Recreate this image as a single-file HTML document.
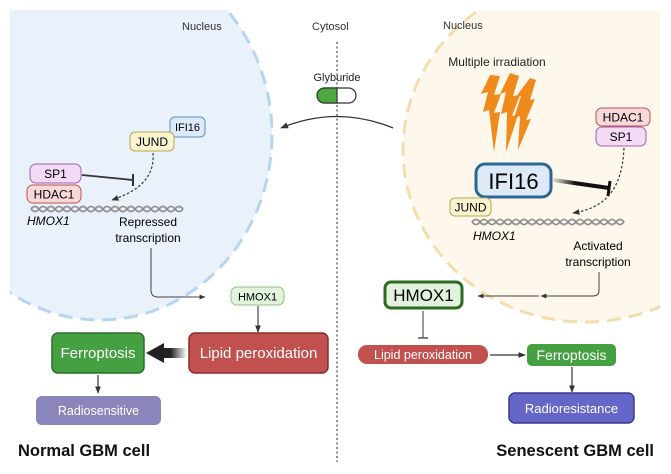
<!DOCTYPE html>
<html><head><meta charset="utf-8"><style>
html,body{margin:0;padding:0;background:#fff;}
svg{display:block;font-family:"Liberation Sans",Arial,sans-serif;}
</style></head><body>
<svg width="671" height="474" viewBox="0 0 671 474" xmlns="http://www.w3.org/2000/svg">
<defs>
<clipPath id="cl"><rect x="10" y="10" width="330" height="330"/></clipPath>
<clipPath id="cr"><rect x="340" y="10" width="320" height="330"/></clipPath>
<marker id="ah" viewBox="0 0 10 10" refX="9" refY="5" markerWidth="6" markerHeight="6" orient="auto"><path d="M0,1 L10,5 L0,9 z" fill="#333"/></marker>
<linearGradient id="tg" x1="1" x2="0" y1="0" y2="0"><stop offset="0" stop-color="#333" stop-opacity="0"/><stop offset="0.4" stop-color="#222"/><stop offset="1" stop-color="#222"/></linearGradient>
<linearGradient id="ig" x1="0" x2="1"><stop offset="0" stop-color="#222" stop-opacity="0.1"/><stop offset="0.4" stop-color="#111"/><stop offset="1" stop-color="#111"/></linearGradient>
</defs>
<!-- left nucleus -->
<g clip-path="url(#cl)">
<ellipse cx="100" cy="135" rx="172" ry="185" fill="#e9f1fa" stroke="#b7d4f1" stroke-width="3" stroke-dasharray="14 8"/>
</g>
<!-- right nucleus -->
<g clip-path="url(#cr)">
<ellipse cx="585" cy="150" rx="182" ry="172" fill="#fdf8eb" stroke="#f3dcae" stroke-width="3" stroke-dasharray="14 8"/>
</g>
<line x1="337" y1="42" x2="337" y2="462" stroke="#555" stroke-width="1.3" stroke-dasharray="2 2.5"/>
<text x="182" y="30" font-size="11" fill="#333">Nucleus</text>
<text x="312" y="30" font-size="11" fill="#333">Cytosol</text>
<text x="443" y="29" font-size="11" fill="#333">Nucleus</text>
<text x="337" y="81" font-size="11" fill="#222" text-anchor="middle">Glyburide</text>
<rect x="317" y="88" width="39" height="15" rx="7.5" fill="#fff" stroke="#333" stroke-width="1.2"/>
<path d="M324.5,88 H337 V103 H324.5 A7.5,7.5 0 0 1 324.5,88 z" fill="#4fa83f" stroke="#333" stroke-width="1.2"/>
<path d="M393,128 Q337,105 281,128" fill="none" stroke="#333" stroke-width="1.3" marker-end="url(#ah)"/>

<!-- left content -->
<rect x="170" y="117" width="35" height="20" rx="5" fill="#dde9f7" stroke="#5b8fc0"/>
<text x="187.5" y="131" font-size="11" text-anchor="middle">IFI16</text>
<rect x="130" y="132" width="44" height="19" rx="5" fill="#f8f3d0" stroke="#b9a84c"/>
<text x="152" y="146" font-size="12" text-anchor="middle">JUND</text>
<path d="M153,153 C155,180 135,192 112,200" fill="none" stroke="#333" stroke-width="1.2" stroke-dasharray="2.5 2" marker-end="url(#ah)"/>
<rect x="30" y="164" width="51" height="19" rx="6" fill="#f3dbf6" stroke="#a160b0"/>
<text x="55.5" y="178" font-size="12" text-anchor="middle">SP1</text>
<rect x="27" y="185" width="54" height="18" rx="6" fill="#f8d9d9" stroke="#c05050"/>
<text x="54" y="198.5" font-size="12" text-anchor="middle">HDAC1</text>
<line x1="82" y1="175" x2="133" y2="180" stroke="#333" stroke-width="1.8"/>
<line x1="133" y1="174" x2="133" y2="186" stroke="#333" stroke-width="2"/>
<path d="M31,209 q4,-5 8,0 t8,0 t8,0 t8,0 t8,0 t8,0 t8,0 t8,0 t8,0 t8,0 t8,0 t8,0 t8,0 t8,0 t8,0 t8,0 t8,0 t8,0 t8,0" fill="none" stroke="#999" stroke-width="2"/>
<path d="M31,209 q4,5 8,0 t8,0 t8,0 t8,0 t8,0 t8,0 t8,0 t8,0 t8,0 t8,0 t8,0 t8,0 t8,0 t8,0 t8,0 t8,0 t8,0 t8,0 t8,0" fill="none" stroke="#888" stroke-width="1.5"/>
<text x="27" y="225" font-size="12" font-style="italic">HMOX1</text>
<text x="148" y="226" font-size="12" text-anchor="middle">Repressed</text>
<text x="148" y="242" font-size="12" text-anchor="middle">transcription</text>
<path d="M151,248 V290 Q151,297 158,297 H205" fill="none" stroke="#444" stroke-width="1" marker-end="url(#ah)"/>
<rect x="231" y="287" width="53" height="18" rx="6" fill="#e1f3dc" stroke="#8fc485"/>
<text x="257.5" y="300.5" font-size="11" text-anchor="middle">HMOX1</text>
<line x1="258" y1="306" x2="258" y2="332" stroke="#444" stroke-width="1.2" marker-end="url(#ah)"/>
<rect x="189" y="333" width="139" height="40" rx="6" fill="#c0514f" stroke="#8e2a2a" stroke-width="1.5"/>
<text x="258.5" y="358" font-size="15" fill="#fff" text-anchor="middle">Lipid peroxidation</text>
<path d="M187,348 H164 V343 L146,353 L164,363 V358 H187 z" fill="url(#tg)"/>
<rect x="52" y="333" width="92" height="40" rx="6" fill="#45a041" stroke="#2b6e2a" stroke-width="1.5"/>
<text x="98" y="358" font-size="15" fill="#fff" text-anchor="middle">Ferroptosis</text>
<line x1="98" y1="375" x2="98" y2="393" stroke="#333" stroke-width="1.2" marker-end="url(#ah)"/>
<rect x="36" y="396" width="125" height="29" rx="6" fill="#8a85bb"/>
<text x="98.5" y="415" font-size="12.5" fill="#fff" text-anchor="middle">Radiosensitive</text>
<text x="18" y="456" font-size="16.5" font-weight="bold" fill="#111">Normal GBM cell</text>

<!-- right content -->
<text x="497" y="66" font-size="12" text-anchor="middle" fill="#222">Multiple irradiation</text>
<g fill="#f08a1c">
<polygon points="490,75 500,76 494,95 501,94 494,113 500,112 494,152 489,110 483,112 488,92 481,94"/>
<polygon points="510,73 519,76 513,96 520,95 512,116 518,115 506,152 507,112 501,114 506,92 500,94"/>
<polygon points="530,78 536,80 530,100 535,99 526,120 531,119 518,150 520,116 514,118 521,96 515,98"/>
</g>
<rect x="596" y="108" width="54" height="18" rx="6" fill="#f8d9d9" stroke="#c05050"/>
<text x="623" y="121.5" font-size="12" text-anchor="middle">HDAC1</text>
<rect x="596" y="127" width="50" height="19" rx="6" fill="#f3dbf6" stroke="#a160b0"/>
<text x="621" y="141" font-size="12" text-anchor="middle">SP1</text>
<rect x="476" y="164" width="75" height="33" rx="9" fill="#dde9f7" stroke="#2c6694" stroke-width="3"/>
<text x="513.5" y="189" font-size="22" text-anchor="middle">IFI16</text>
<path d="M553,180 L609,188" stroke="url(#ig)" stroke-width="4"/>
<line x1="610" y1="181" x2="608" y2="196" stroke="#111" stroke-width="3"/>
<path d="M624,148 C622,190 605,208 573,213" fill="none" stroke="#333" stroke-width="1.2" stroke-dasharray="2.5 2" marker-end="url(#ah)"/>
<rect x="450" y="198" width="41" height="18" rx="5" fill="#f8f3d0" stroke="#b9a84c"/>
<text x="470.5" y="211.5" font-size="12" text-anchor="middle">JUND</text>
<path d="M472,222 q4,-5 8,0 t8,0 t8,0 t8,0 t8,0 t8,0 t8,0 t8,0 t8,0 t8,0 t8,0 t8,0 t8,0 t8,0 t8,0 t8,0 t8,0 t8,0 t8,0" fill="none" stroke="#999" stroke-width="2"/>
<path d="M472,222 q4,5 8,0 t8,0 t8,0 t8,0 t8,0 t8,0 t8,0 t8,0 t8,0 t8,0 t8,0 t8,0 t8,0 t8,0 t8,0 t8,0 t8,0 t8,0 t8,0" fill="none" stroke="#888" stroke-width="1.5"/>
<text x="473" y="240" font-size="12" font-style="italic">HMOX1</text>
<text x="598" y="250" font-size="12" text-anchor="middle">Activated</text>
<text x="598" y="266" font-size="12" text-anchor="middle">transcription</text>
<path d="M599,272 V290 Q599,296 593,296 H541" fill="none" stroke="#444" stroke-width="1" marker-end="url(#ah)"/>
<line x1="539" y1="296" x2="478" y2="296" stroke="#444" stroke-width="1" marker-end="url(#ah)"/>
<rect x="385" y="282" width="77" height="26" rx="6" fill="#e1f3dc" stroke="#2d6a22" stroke-width="3"/>
<text x="423.5" y="301" font-size="17" text-anchor="middle">HMOX1</text>
<line x1="423" y1="311" x2="423" y2="338" stroke="#555" stroke-width="1.2"/>
<line x1="418" y1="338" x2="428" y2="338" stroke="#555" stroke-width="1.5"/>
<rect x="358" y="345" width="130" height="19" rx="9" fill="#c0514f"/>
<text x="423" y="359" font-size="12.5" fill="#fff" text-anchor="middle">Lipid peroxidation</text>
<line x1="490" y1="355" x2="525" y2="355" stroke="#333" stroke-width="1.2" marker-end="url(#ah)"/>
<rect x="527" y="344" width="89" height="22" rx="5" fill="#45a041"/>
<text x="571.5" y="360" font-size="14" fill="#fff" text-anchor="middle">Ferroptosis</text>
<line x1="572" y1="367" x2="572" y2="392" stroke="#333" stroke-width="1.2" marker-end="url(#ah)"/>
<rect x="509" y="393" width="125" height="30" rx="6" fill="#6666c9" stroke="#3a3a90" stroke-width="1.5"/>
<text x="571.5" y="413" font-size="13" fill="#fff" text-anchor="middle">Radioresistance</text>
<text x="654" y="456" font-size="16.5" font-weight="bold" fill="#111" text-anchor="end">Senescent GBM cell</text>
</svg>
</body></html>
